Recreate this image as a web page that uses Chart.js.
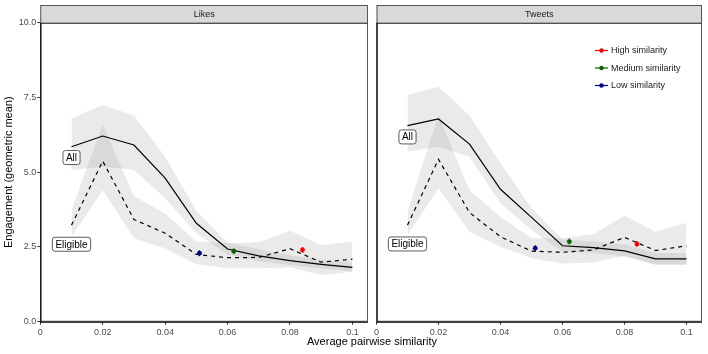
<!DOCTYPE html>
<html>
<head>
<meta charset="utf-8">
<script src="https://cdn.jsdelivr.net/npm/chart.js@4/dist/chart.umd.min.js"></script>
<style>
  html, body { margin: 0; padding: 0; background: #fff; }
  #wrap { position: relative; width: 708px; height: 354px; font-family: "Liberation Sans", Arial, sans-serif; }
  .panel { position: absolute; top: 0; height: 354px; }
  #xtitle { position: absolute; left: 0; width: 744px; top: 335px; text-align: center; font-size: 11px; color: #000; }
</style>
</head>
<body>
<div id="wrap">
  <div class="panel" style="left:0;width:372px"><canvas id="likes"></canvas></div>
  <div class="panel" style="left:372px;width:336px"><canvas id="tweets"></canvas></div>
  <div id="xtitle">Average pairwise similarity</div>
</div>
<script>
const similarity = [0.01, 0.02, 0.03, 0.04, 0.05, 0.06, 0.07, 0.08, 0.09, 0.1]

const likesAll = [5.85, 6.21, 5.91, 4.80, 3.29, 2.43, 2.20, 2.04, 1.92, 1.82]
const likesAllLo = [5.07, 5.18, 5.07, 4.13, 2.96, 2.25, 2.02, 1.90, 1.78, 1.68]
const likesAllHi = [6.80, 7.25, 6.90, 5.52, 3.70, 2.65, 2.42, 2.22, 2.08, 1.98]
const likesElig = [3.23, 5.37, 3.42, 2.96, 2.25, 2.14, 2.15, 2.44, 1.99, 2.09]
const likesEligLo = [2.84, 4.40, 2.79, 2.45, 1.92, 1.79, 1.79, 1.82, 1.56, 1.67]
const likesEligHi = [3.74, 6.58, 4.20, 3.62, 2.68, 2.62, 2.66, 3.04, 2.56, 2.68]

const tweetsAll = [6.56, 6.78, 5.94, 4.43, 3.49, 2.54, 2.48, 2.37, 2.10, 2.10]
const tweetsAllLo = [5.69, 5.85, 5.52, 3.96, 3.07, 2.35, 2.30, 2.18, 1.92, 1.92]
const tweetsAllHi = [7.58, 7.86, 6.90, 5.30, 3.80, 2.75, 2.68, 2.58, 2.30, 2.30]
const tweetsElig = [3.23, 5.43, 3.65, 2.84, 2.36, 2.32, 2.40, 2.82, 2.38, 2.54]
const tweetsEligLo = [2.90, 4.46, 3.01, 2.51, 2.12, 1.95, 1.98, 2.20, 1.90, 1.90]
const tweetsEligHi = [3.68, 6.91, 4.40, 3.51, 2.79, 2.79, 2.93, 3.54, 3.01, 3.31]

const groups = ['High similarity', 'Medium similarity', 'Low similarity']
const groupColors = ['#ff0000', '#006400', '#00008b']
const likesPtX = [0.084, 0.062, 0.051]
const likesPtY = [2.40, 2.36, 2.29]
const tweetsPtX = [0.084, 0.0622, 0.0512]
const tweetsPtY = [2.60, 2.68, 2.46]
const ptErr = 0.1

const labelText = ['All', 'Eligible']
const labelX = [0.01, 0.01]
const likesLabelY = [5.49, 2.59]
const tweetsLabelY = [6.18, 2.60]

const FONT = '"Liberation Sans", Arial, sans-serif'
const ribbon = 'rgba(128,128,128,0.17)'

const pts = (ys) => ys.map((y, i) => ({ x: similarity[i], y }))

function roundRect (ctx, x, y, w, h, r) {
  ctx.beginPath()
  ctx.moveTo(x + r, y)
  ctx.arcTo(x + w, y, x + w, y + h, r)
  ctx.arcTo(x + w, y + h, x, y + h, r)
  ctx.arcTo(x, y + h, x, y, r)
  ctx.arcTo(x, y, x + w, y, r)
  ctx.closePath()
}

// strip, panel border, error bars, text labels, legend
const facetPlugin = {
  id: 'facet',
  afterDatasetsDraw (chart, args, opts) {
    const { ctx, scales: { x, y } } = chart
    ctx.save()
    opts.ptX.forEach((px, i) => {
      const cx = x.getPixelForValue(px)
      ctx.strokeStyle = groupColors[i]
      ctx.lineWidth = 1.2
      ctx.beginPath()
      ctx.moveTo(cx, y.getPixelForValue(opts.ptY[i] - ptErr))
      ctx.lineTo(cx, y.getPixelForValue(opts.ptY[i] + ptErr))
      ctx.stroke()
    })
    ctx.font = '10px ' + FONT
    ctx.textAlign = 'center'
    ctx.textBaseline = 'middle'
    labelText.forEach((t, i) => {
      const cx = x.getPixelForValue(labelX[i])
      const cy = y.getPixelForValue(opts.labelY[i])
      const w = ctx.measureText(t).width + 6
      const h = 14
      roundRect(ctx, cx - w / 2, cy - h / 2, w, h, 2.5)
      ctx.fillStyle = '#fff'
      ctx.fill()
      ctx.strokeStyle = '#333'
      ctx.lineWidth = 0.8
      ctx.stroke()
      ctx.fillStyle = '#000'
      ctx.fillText(t, cx, cy + 0.5)
    })
    ctx.restore()
  },
  afterDraw (chart, args, opts) {
    const { ctx, chartArea: a } = chart
    ctx.save()
    // strip
    ctx.fillStyle = '#d9d9d9'
    ctx.fillRect(a.left, 5, a.right - a.left, a.top - 5)
    ctx.strokeStyle = '#333'
    ctx.lineWidth = 0.8
    ctx.strokeRect(a.left + 0.5, 5.5, a.right - a.left - 1, a.top - 5)
    ctx.fillStyle = '#1a1a1a'
    ctx.font = '9px ' + FONT
    ctx.textAlign = 'center'
    ctx.textBaseline = 'middle'
    ctx.fillText(opts.title, (a.left + a.right) / 2, (a.top + 5) / 2 + 0.5)
    // panel border + axis lines
    ctx.strokeStyle = '#333'
    ctx.lineWidth = 0.8
    ctx.strokeRect(a.left + 0.5, a.top + 0.5, a.right - a.left - 1, a.bottom - a.top - 1)
    ctx.strokeStyle = '#000'
    ctx.lineWidth = 1.2
    ctx.beginPath()
    ctx.moveTo(a.left + 0.5, a.top)
    ctx.lineTo(a.left + 0.5, a.bottom + 0.5)
    ctx.lineTo(a.right, a.bottom + 0.5)
    ctx.stroke()
    // legend
    if (opts.legend) {
      ctx.font = '9px ' + FONT
      ctx.textAlign = 'left'
      groups.forEach((g, i) => {
        const ly = 50.5 + i * 17.5
        const lx = 223
        ctx.strokeStyle = groupColors[i]
        ctx.lineWidth = 1.2
        ctx.beginPath()
        ctx.moveTo(lx, ly)
        ctx.lineTo(lx + 13, ly)
        ctx.stroke()
        ctx.fillStyle = groupColors[i]
        ctx.beginPath()
        ctx.arc(lx + 6.5, ly, 2.2, 0, Math.PI * 2)
        ctx.fill()
        ctx.fillStyle = '#1a1a1a'
        ctx.fillText(g, lx + 16, ly + 0.5)
      })
    }
    ctx.restore()
  }
}

function makePanel (id, cfg) {
  const datasets = [
    { data: pts(cfg.allLo), borderWidth: 0, pointRadius: 0, fill: false, order: 5 },
    { data: pts(cfg.allHi), borderWidth: 0, pointRadius: 0, fill: '-1', backgroundColor: ribbon, order: 5 },
    { data: pts(cfg.eligLo), borderWidth: 0, pointRadius: 0, fill: false, order: 5 },
    { data: pts(cfg.eligHi), borderWidth: 0, pointRadius: 0, fill: '-1', backgroundColor: ribbon, order: 5 },
    { data: pts(cfg.all), borderColor: '#000', borderWidth: 1.2, pointRadius: 0, fill: false, order: 3 },
    { data: pts(cfg.elig), borderColor: '#000', borderWidth: 1.2, borderDash: [4, 4], pointRadius: 0, fill: false, order: 3 }
  ]
  groups.forEach((g, i) => {
    datasets.push({
      label: g,
      data: [{ x: cfg.ptX[i], y: cfg.ptY[i] }],
      showLine: false,
      pointRadius: 2.4,
      pointBorderWidth: 0,
      pointBackgroundColor: groupColors[i],
      order: 1
    })
  })

  return new Chart(document.getElementById(id), {
    type: 'line',
    data: { datasets },
    options: {
      responsive: true,
      maintainAspectRatio: false,
      animation: false,
      layout: { padding: cfg.padding },
      plugins: {
        legend: { display: false },
        tooltip: { enabled: false },
        facet: { title: cfg.title, legend: cfg.legend, ptX: cfg.ptX, ptY: cfg.ptY, labelY: cfg.labelY }
      },
      scales: {
        x: {
          type: 'linear',
          min: 0,
          max: 0.105,
          afterFit: (s) => { s.height = 20 },
          border: { display: false },
          grid: { drawOnChartArea: false, tickLength: 3, color: '#333' },
          ticks: {
            stepSize: 0.02,
            includeBounds: false,
            padding: 2,
            color: '#4d4d4d',
            font: { family: FONT, size: 9 },
            maxRotation: 0,
            callback: (v) => v === 0 ? '0' : String(+v.toFixed(2))
          }
        },
        y: {
          min: 0,
          max: 10,
          display: cfg.showY,
          afterFit: (s) => { s.width = cfg.showY ? 40.3 : 0 },
          border: { display: false },
          grid: { drawOnChartArea: false, tickLength: 3, color: '#333' },
          title: {
            display: true,
            text: 'Engagement (geometric mean)',
            color: '#000',
            font: { family: FONT, size: 11 },
            padding: { top: 2, bottom: 0 }
          },
          ticks: {
            stepSize: 2.5,
            padding: 1,
            color: '#4d4d4d',
            font: { family: FONT, size: 9 },
            callback: (v) => v.toFixed(1)
          }
        }
      }
    },
    plugins: [facetPlugin]
  })
}

makePanel('likes', {
  title: 'Likes',
  all: likesAll, allLo: likesAllLo, allHi: likesAllHi,
  elig: likesElig, eligLo: likesEligLo, eligHi: likesEligHi,
  ptX: likesPtX, ptY: likesPtY, labelY: likesLabelY,
  showY: true, legend: false,
  padding: { top: 22.7, right: 2.5, bottom: 12.3, left: 0 }
})

makePanel('tweets', {
  title: 'Tweets',
  all: tweetsAll, allLo: tweetsAllLo, allHi: tweetsAllHi,
  elig: tweetsElig, eligLo: tweetsEligLo, eligHi: tweetsEligHi,
  ptX: tweetsPtX, ptY: tweetsPtY, labelY: tweetsLabelY,
  showY: false, legend: true,
  padding: { top: 22.7, right: 6, bottom: 12.3, left: 2.3 }
})
</script>
</body>
</html>
